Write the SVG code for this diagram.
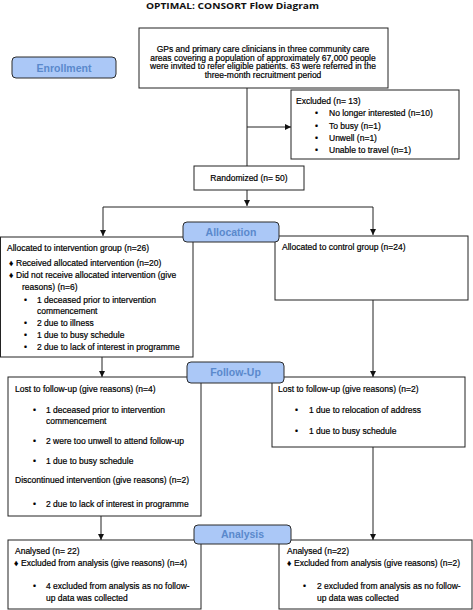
<svg xmlns="http://www.w3.org/2000/svg" width="473" height="610" viewBox="0 0 473 610">
<style>
.t{font-family:"Liberation Sans",Arial,sans-serif;font-size:8.5px;fill:#000;stroke:#000;stroke-width:0.2}
.c{text-anchor:middle}
.box{fill:#fff;stroke:#222;stroke-width:1}
.pill{fill:#abc8f7;stroke:#2a2a2a;stroke-width:1}
.pt{font-family:"Liberation Sans",Arial,sans-serif;font-size:10.5px;font-weight:bold;fill:#5a89cc;text-anchor:middle}
.ln{fill:none;stroke:#222;stroke-width:1}
.title{font-family:"Open Sans","Liberation Sans",sans-serif;font-size:9.5px;font-weight:bold;fill:#111;text-anchor:middle}
</style>
<defs>
<marker id="ah" viewBox="0 0 10 10" refX="10" refY="5" markerWidth="6" markerHeight="6" markerUnits="userSpaceOnUse" orient="auto">
<path d="M0,0 L10,5 L0,10 z" fill="#111"/>
</marker>
</defs>
<rect width="473" height="610" fill="#fff"/>
<text class="title" x="232.5" y="9" textLength="173" lengthAdjust="spacingAndGlyphs">OPTIMAL: CONSORT Flow Diagram</text>

<g id="connectors">
<path class="ln" d="M247,88 V166"/>
<path class="ln" d="M247,127 H291" marker-end="url(#ah)"/>
<path class="ln" d="M247,190 V206" marker-end="url(#ah)"/>
<path class="ln" d="M103,207 H373"/>
<path class="ln" d="M103,207 V236" marker-end="url(#ah)"/>
<path class="ln" d="M373,207 V235" marker-end="url(#ah)"/>
<path class="ln" d="M102,357 V377" marker-end="url(#ah)"/>
<path class="ln" d="M373,300 V377" marker-end="url(#ah)"/>
<path class="ln" d="M101,516 V540" marker-end="url(#ah)"/>
<path class="ln" d="M373,447 V540" marker-end="url(#ah)"/>
</g>

<g id="enrollment">
<rect class="pill" x="12" y="57" width="104" height="21" rx="4"/>
<text class="pt" x="64" y="71.5">Enrollment</text>
</g>

<g id="referred">
<rect class="box" x="139" y="28" width="249" height="60"/>
<text class="t c" x="263" y="52">GPs and primary care clinicians in three community care</text>
<text class="t c" x="263" y="60.5">areas covering a population of approximately 67,000 people</text>
<text class="t c" x="263" y="69">were invited to refer eligible patients. 63 were referred in the</text>
<text class="t c" x="263" y="77.5">three-month recruitment period</text>
</g>

<g id="excluded">
<rect class="box" x="291" y="90" width="168" height="69"/>
<text class="t" x="296" y="104">Excluded  (n= 13)</text>
<text class="t" x="315" y="116.3">•</text><text class="t" x="329" y="116.3">No longer interested (n=10)</text>
<text class="t" x="315" y="128.5">•</text><text class="t" x="329" y="128.5">To busy (n=1)</text>
<text class="t" x="315" y="140.8">•</text><text class="t" x="329" y="140.8">Unwell (n=1)</text>
<text class="t" x="315" y="153">•</text><text class="t" x="329" y="153">Unable to travel (n=1)</text>
</g>

<g id="randomized">
<rect class="box" x="194" y="166" width="110" height="24"/>
<text class="t c" x="249" y="181">Randomized (n= 50)</text>
</g>

<g id="alloc-intervention">
<rect class="box" x="0.5" y="237" width="192.5" height="120"/>
<text class="t" x="7" y="250.5">Allocated to intervention group (n=26)</text>
<text class="t" x="9" y="265.5">♦</text><text class="t" x="16" y="265.5">Received allocated intervention (n=20)</text>
<text class="t" x="9" y="278">♦</text><text class="t" x="16" y="278">Did not receive allocated intervention (give</text>
<text class="t" x="22" y="289.5">reasons) (n=6)</text>
<text class="t" x="24" y="303">•</text><text class="t" x="37" y="303">1 deceased prior to intervention</text>
<text class="t" x="37" y="314">commencement</text>
<text class="t" x="24" y="326">•</text><text class="t" x="37" y="326">2 due to illness</text>
<text class="t" x="24" y="338">•</text><text class="t" x="37" y="338">1 due to busy schedule</text>
<text class="t" x="24" y="350">•</text><text class="t" x="37" y="350">2 due to lack of interest in programme</text>
</g>

<g id="alloc-control">
<rect class="box" x="275" y="236" width="193" height="64"/>
<text class="t" x="282" y="250">Allocated to control group (n=24)</text>
</g>

<g id="allocation">
<rect class="pill" x="183" y="222" width="96" height="20" rx="4"/>
<text class="pt" x="231" y="235.8">Allocation</text>
</g>

<g id="followup-intervention">
<rect class="box" x="8" y="377" width="193" height="139"/>
<text class="t" x="15" y="391.5">Lost to follow-up (give reasons) (n=4)</text>
<text class="t" x="33" y="412.5">•</text><text class="t" x="46" y="412.5">1 deceased prior to intervention</text>
<text class="t" x="46" y="424">commencement</text>
<text class="t" x="33" y="444">•</text><text class="t" x="46" y="444">2 were too unwell to attend follow-up</text>
<text class="t" x="33" y="464">•</text><text class="t" x="46" y="464">1 due to busy schedule</text>
<text class="t" x="15" y="482.5">Discontinued intervention (give reasons) (n=2)</text>
<text class="t" x="33" y="506.5">•</text><text class="t" x="46" y="506.5">2 due to lack of interest in programme</text>
</g>

<g id="followup-control">
<rect class="box" x="272" y="377" width="193" height="70"/>
<text class="t" x="278" y="391.5">Lost to follow-up (give reasons) (n=2)</text>
<text class="t" x="295" y="412.5">•</text><text class="t" x="309" y="412.5">1 due to relocation of address</text>
<text class="t" x="295" y="433.5">•</text><text class="t" x="309" y="433.5">1 due to busy schedule</text>
</g>

<g id="follow-up">
<rect class="pill" x="187" y="362" width="97" height="21" rx="4"/>
<text class="pt" x="235.5" y="376.3">Follow-Up</text>
</g>

<g id="analysis-intervention">
<rect class="box" x="8" y="540" width="193" height="69"/>
<text class="t" x="15" y="554">Analysed  (n= 22)</text>
<text class="t" x="14" y="565.5">♦</text><text class="t" x="21" y="565.5">Excluded from analysis (give reasons) (n=4)</text>
<text class="t" x="33" y="588.5">•</text><text class="t" x="46" y="588.5">4 excluded from analysis as no follow-</text>
<text class="t" x="46" y="600.5">up data was collected</text>
</g>

<g id="analysis-control">
<rect class="box" x="279" y="540" width="193" height="69"/>
<text class="t" x="287" y="554">Analysed  (n=22)</text>
<text class="t" x="287" y="565.5">♦</text><text class="t" x="294" y="565.5">Excluded from analysis (give reasons) (n=2)</text>
<text class="t" x="303" y="588.5">•</text><text class="t" x="317" y="588.5">2 excluded from analysis as no follow-</text>
<text class="t" x="317" y="600.5">up data was collected</text>
</g>

<g id="analysis">
<rect class="pill" x="194" y="525" width="97" height="19" rx="4"/>
<text class="pt" x="242.5" y="538.3">Analysis</text>
</g>
</svg>
